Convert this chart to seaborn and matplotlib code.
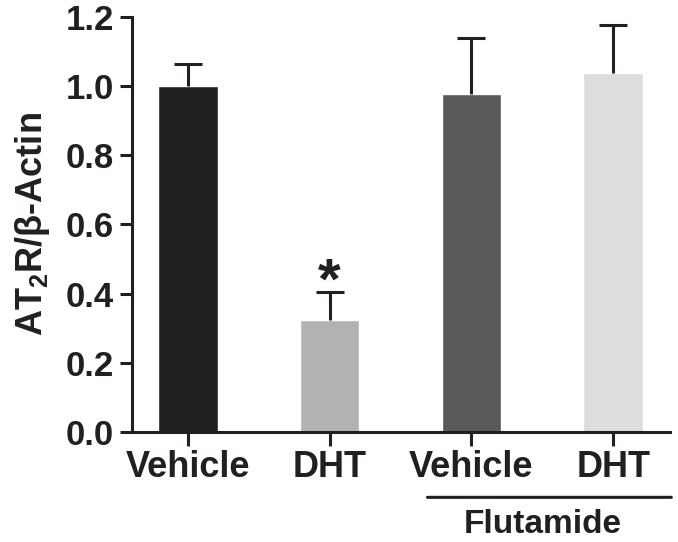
import pandas as pd
import matplotlib
matplotlib.use("Agg")
import matplotlib.pyplot as plt
import seaborn as sns

groups = ["Vehicle", "DHT", "Flu Vehicle", "Flu DHT"]
tick_labels = ["Vehicle", "DHT", "Vehicle", "DHT"]
means = [1.0, 0.323, 0.976, 1.038]
sems = [0.064, 0.083, 0.164, 0.138]
bar_colors = ["#231f20", "#b1b2b4", "#59595b", "#dcdddf"]

sns.set_style("ticks")
plt.rcParams["font.family"] = ["Liberation Sans", "DejaVu Sans"]
plt.rcParams["font.weight"] = "bold"
plt.rcParams["mathtext.fontset"] = "custom"
plt.rcParams["mathtext.rm"] = "Liberation Sans:bold"
plt.rcParams["mathtext.bf"] = "Liberation Sans:bold"

df = pd.DataFrame({"group": groups, "mean": means, "sem": sems})
ink = "#231f20"

fig = plt.figure(figsize=(6.78, 5.42), dpi=100)
ax = fig.add_axes([0.1947, 0.203, 0.7933, 0.7657])

sns.barplot(data=df, x="group", y="mean", hue="group", palette=bar_colors,
            legend=False, width=0.42, errorbar=None, ax=ax)
# upward-only SEM bars
eb = ax.errorbar(range(len(means)), means, yerr=[[0] * len(sems), sems], fmt="none",
                 ecolor=ink, elinewidth=2.2, capsize=10, capthick=2.2, zorder=1)
eb[1][0].set_visible(False)

# significance marker
ax.text(1, 0.387, "*", ha="center", va="baseline",
        fontsize=42, fontweight="bold", color=ink)

ax.set_xlim(-0.395, 3.4)
ax.set_ylim(0, 1.2)
ax.set_yticks([0, 0.2, 0.4, 0.6, 0.8, 1.0, 1.2])
ax.set_yticklabels([f"{v:.1f}" for v in [0, 0.2, 0.4, 0.6, 0.8, 1.0, 1.2]])
ax.set_xticks(range(len(tick_labels)))
ax.set_xticklabels(tick_labels)
ax.set_xlabel("")
ax.set_ylabel(r"AT$_\mathbf{2}$R/β-Actin", fontsize=26, fontweight="bold",
              color=ink, labelpad=10)

for side in ["top", "right"]:
    ax.spines[side].set_visible(False)
for side in ["left", "bottom"]:
    ax.spines[side].set_linewidth(2.2)
    ax.spines[side].set_color(ink)
ax.tick_params(axis="y", length=9, width=2.2, colors=ink, labelsize=25, pad=4)
ax.tick_params(axis="x", length=10, width=2.2, colors=ink, labelsize=26, pad=3)
for lab in ax.get_xticklabels() + ax.get_yticklabels():
    lab.set_fontweight("bold")

# Flutamide bracket under the last two groups
ax.annotate("", xy=(1.67, -0.189), xytext=(3.43, -0.189), xycoords="data",
            arrowprops=dict(arrowstyle="-", lw=2.2, color=ink),
            annotation_clip=False)
ax.text(2.5, -0.268, "Flutamide", ha="center", va="center", fontsize=24,
        fontweight="bold", color=ink, clip_on=False)

fig.savefig("out.png", dpi=100)
